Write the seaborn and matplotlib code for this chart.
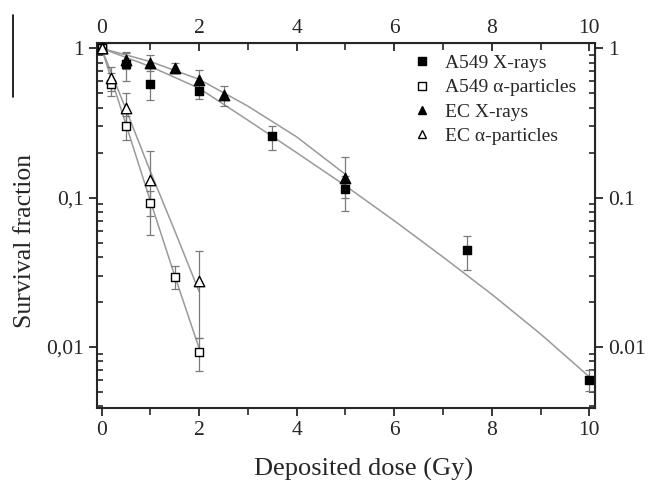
import numpy as np
import pandas as pd
import matplotlib
matplotlib.use("Agg")
import matplotlib.pyplot as plt
import matplotlib.ticker as mticker
from matplotlib.lines import Line2D
import seaborn as sns

# measured points (dose in Gy, survival fraction, error bar low/high)
a549_x_dose = [0, 0.5, 1, 2, 3.5, 5, 7.5, 10]
a549_x_sf = [1.0, 0.78, 0.58, 0.52, 0.257, 0.114, 0.0447, 0.00605]
a549_x_lo = [0.95, 0.60, 0.45, 0.46, 0.21, 0.081, 0.033, 0.0051]
a549_x_hi = [1.05, 0.93, 0.74, 0.58, 0.30, 0.14, 0.0556, 0.0070]

a549_a_dose = [0, 0.2, 0.5, 1, 1.5, 2]
a549_a_sf = [1.0, 0.58, 0.303, 0.0916, 0.0293, 0.00927]
a549_a_lo = [0.95, 0.476, 0.242, 0.0561, 0.0245, 0.00692]
a549_a_hi = [1.05, 0.68, 0.35, 0.11, 0.035, 0.0114]

ec_x_dose = [0, 0.5, 1, 1.5, 2, 2.5, 5]
ec_x_sf = [1.0, 0.836, 0.80, 0.736, 0.615, 0.483, 0.136]
ec_x_lo = [0.95, 0.73, 0.70, 0.68, 0.53, 0.41, 0.10]
ec_x_hi = [1.05, 0.94, 0.90, 0.80, 0.72, 0.555, 0.187]

ec_a_dose = [0, 0.2, 0.5, 1, 2]
ec_a_sf = [1.0, 0.637, 0.40, 0.132, 0.0278]
ec_a_lo = [0.95, 0.52, 0.30, 0.075, 0.0114]
ec_a_hi = [1.05, 0.75, 0.50, 0.204, 0.044]

# fitted curves
fit_a549_x_dose = [0, 1, 2, 3, 4, 5, 6, 7, 8, 9, 10]
fit_a549_x_sf = [1.0, 0.755, 0.54, 0.33, 0.20, 0.12, 0.070, 0.040, 0.0225, 0.0122, 0.0063]
fit_ec_x_dose = [0, 1, 2, 3, 4, 5]
fit_ec_x_sf = [1.0, 0.815, 0.62, 0.41, 0.255, 0.143]
fit_a549_a_dose = [0, 0.5, 1, 1.5, 2]
fit_a549_a_sf = [1.0, 0.31, 0.095, 0.03, 0.0098]
fit_ec_a_dose = [0, 0.5, 1, 1.5, 2]
fit_ec_a_sf = [1.0, 0.39, 0.15, 0.06, 0.0235]

labels = ["A549 X-rays", "A549 \u03b1-particles", "EC X-rays", "EC \u03b1-particles"]

sns.set_style("ticks")
plt.rcParams["font.family"] = ["Liberation Serif", "DejaVu Serif"]

fig = plt.figure(figsize=(6.52, 4.8), dpi=100)
ax = fig.add_axes([0.149, 0.15, 0.764, 0.761])

line_col = "#9a9a9a"
fits = pd.concat([
    pd.DataFrame({"dose": fit_a549_x_dose, "sf": fit_a549_x_sf, "fit": "a549x"}),
    pd.DataFrame({"dose": fit_ec_x_dose, "sf": fit_ec_x_sf, "fit": "ecx"}),
    pd.DataFrame({"dose": fit_a549_a_dose, "sf": fit_a549_a_sf, "fit": "a549a"}),
    pd.DataFrame({"dose": fit_ec_a_dose, "sf": fit_ec_a_sf, "fit": "eca"}),
])
sns.lineplot(data=fits, x="dose", y="sf", units="fit", estimator=None, sort=False,
             color=line_col, lw=1.1, ax=ax, legend=False)

series = [
    (a549_x_dose, a549_x_sf, a549_x_lo, a549_x_hi, "s", "black", 6.2),
    (a549_a_dose, a549_a_sf, a549_a_lo, a549_a_hi, "s", "white", 6.2),
    (ec_x_dose, ec_x_sf, ec_x_lo, ec_x_hi, "^", "black", 7.5),
    (ec_a_dose, ec_a_sf, ec_a_lo, ec_a_hi, "^", "white", 7.5),
]
handles = []
for (d, s, lo, hi, mk, fc, ms), lab in zip(series, labels):
    s = np.array(s)
    yerr = [s - np.array(lo), np.array(hi) - s]
    ax.errorbar(d, s, yerr=yerr, fmt="none", ecolor="#7a7a7a", elinewidth=0.9,
                capsize=3, capthick=0.9, zorder=3)
    sns.scatterplot(x=d, y=s, marker=mk, s=ms ** 2, color=fc, edgecolor="black",
                    linewidth=1.0, ax=ax, zorder=4, legend=False)
    handles.append(Line2D([], [], ls="none", marker=mk, ms=5.5, mfc=fc, mec="black",
                          mew=1.0, label=lab))

ax.set_yscale("log")
ax.set_xlim(-0.09, 10.12)
ax.set_ylim(0.0039, 1.09)
ax.set_xticks([0, 2, 4, 6, 8, 10])
ax.xaxis.set_minor_locator(mticker.MultipleLocator(1))
ax.set_yticks([0.01, 0.1, 1])
ax.yaxis.set_major_formatter(mticker.FixedFormatter(["0,01", "0,1", "1"]))
ax.yaxis.set_minor_formatter(mticker.NullFormatter())

for sp in ax.spines.values():
    sp.set_visible(True)
    sp.set_linewidth(1.5)
ax.tick_params(axis="x", which="major", direction="out", length=6, width=1.3, labelsize=15.5)
ax.tick_params(axis="x", which="minor", direction="out", length=5, width=1.2)
ax.tick_params(axis="y", which="major", direction="out", length=6, width=1.3, labelsize=15.5)
ax.tick_params(axis="y", which="minor", direction="in", length=4, width=1.2)

top = ax.secondary_xaxis("top")
top.set_xticks([0, 2, 4, 6, 8, 10])
top.xaxis.set_minor_locator(mticker.MultipleLocator(1))
top.tick_params(which="major", direction="in", length=6, width=1.3, labelsize=15.5)
top.tick_params(which="minor", direction="in", length=5, width=1.2)

right = ax.secondary_yaxis("right")
right.set_yticks([0.01, 0.1, 1])
right.yaxis.set_major_formatter(mticker.FixedFormatter(["0.01", "0.1", "1"]))
right.yaxis.set_minor_formatter(mticker.NullFormatter())
right.tick_params(which="major", direction="out", length=6, width=1.3, labelsize=15.5)
right.tick_params(which="minor", direction="in", length=4, width=1.2)

ax.set_xlabel("Deposited dose (Gy)", fontsize=19)
ax.set_ylabel("Survival fraction", fontsize=18.5)
ax.xaxis.set_label_coords(0.534, -0.137)
ax.yaxis.set_label_coords(-0.122, 0.457)

ax.legend(handles=handles, loc="upper right", bbox_to_anchor=(0.985, 1.0), frameon=False,
          fontsize=14, handletextpad=0.6, labelspacing=0.35, handlelength=1.2,
          borderaxespad=0.2)

# stray rule at the left edge of the scanned figure
fig.add_artist(Line2D([13 / 652, 13 / 652], [1 - 15 / 480, 1 - 97 / 480],
                      transform=fig.transFigure, color="black", lw=1.2))

fig.savefig("out.png", dpi=100)
